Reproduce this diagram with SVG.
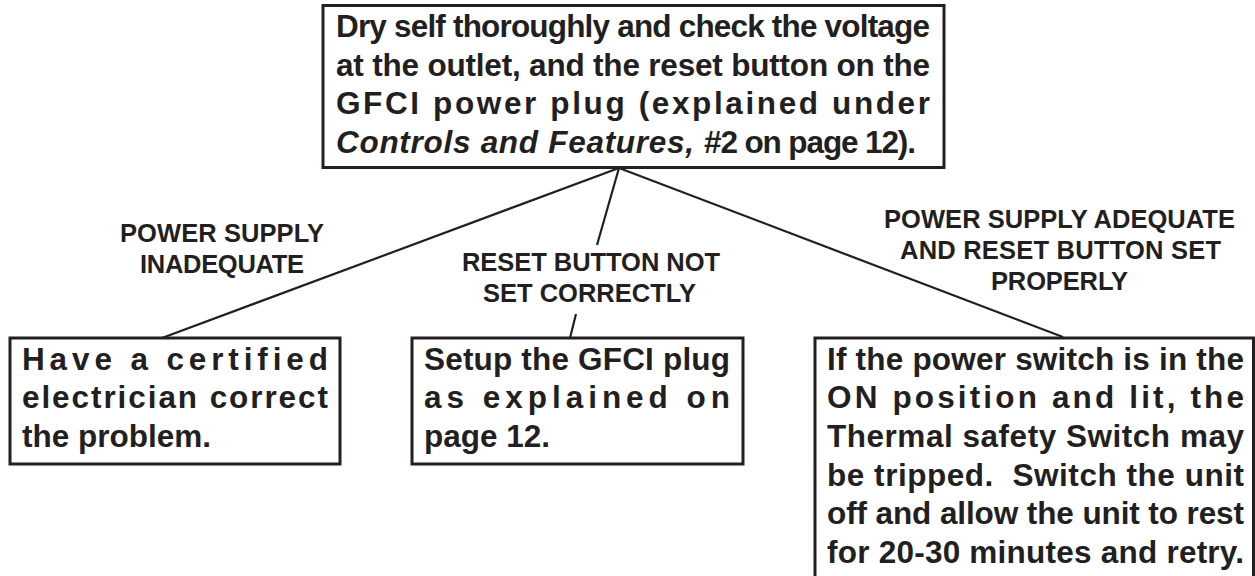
<svg xmlns="http://www.w3.org/2000/svg" width="1255" height="576" viewBox="0 0 1255 576">
<style>
.box{fill:#ffffff;stroke:#231f20;stroke-width:3}
.t{font-family:"Liberation Sans",Arial,Helvetica,sans-serif;font-weight:bold;font-size:31.5px;fill:#231f20}
.i{font-style:italic}
.lbl{font-family:"Liberation Sans",Arial,Helvetica,sans-serif;font-weight:bold;font-size:25.5px;fill:#231f20}
.c{fill:none;stroke:#231f20;stroke-width:2.2}
</style>
<rect width="1255" height="576" fill="#ffffff"/>
<g id="connectors">
<line class="c" x1="619" y1="168" x2="162" y2="338"/>
<line class="c" x1="619" y1="168" x2="597" y2="245"/>
<line class="c" x1="576" y1="314" x2="570" y2="338"/>
<line class="c" x1="619" y1="168" x2="1063" y2="337"/>
</g>
<g id="top">
<rect class="box" x="323" y="5.5" width="621" height="162"/>
<text class="t" x="336" y="37" textLength="594" lengthAdjust="spacing">Dry self thoroughly and check the voltage</text>
<text class="t" x="336" y="75.5" textLength="594" lengthAdjust="spacing">at the outlet, and the reset button on the</text>
<text class="t" x="336" y="114" textLength="594" lengthAdjust="spacing">GFCI power plug (explained under</text>
<text class="t i" x="336" y="152.5" textLength="358" lengthAdjust="spacing">Controls and Features,</text>
<text class="t" x="704" y="152.5" textLength="212" lengthAdjust="spacing">#2 on page 12).</text>
</g>
<g id="label-inadequate">
<text class="lbl" x="120" y="242" textLength="204" lengthAdjust="spacing">POWER SUPPLY</text>
<text class="lbl" x="140" y="273" textLength="164" lengthAdjust="spacing">INADEQUATE</text>
</g>
<g id="label-reset">
<text class="lbl" x="462" y="271" textLength="258" lengthAdjust="spacing">RESET BUTTON NOT</text>
<text class="lbl" x="483" y="302" textLength="213" lengthAdjust="spacing">SET CORRECTLY</text>
</g>
<g id="label-adequate">
<text class="lbl" x="884" y="228" textLength="351" lengthAdjust="spacing">POWER SUPPLY ADEQUATE</text>
<text class="lbl" x="900" y="259" textLength="321" lengthAdjust="spacing">AND RESET BUTTON SET</text>
<text class="lbl" x="991" y="290" textLength="137" lengthAdjust="spacing">PROPERLY</text>
</g>
<g id="electrician">
<rect class="box" x="10" y="338" width="330" height="126"/>
<text class="t" x="22" y="369.5" textLength="306" lengthAdjust="spacing">Have a certified</text>
<text class="t" x="22" y="408" textLength="306" lengthAdjust="spacing">electrician correct</text>
<text class="t" x="22" y="446.5">the problem.</text>
</g>
<g id="gfci">
<rect class="box" x="412" y="338" width="331" height="126"/>
<text class="t" x="424" y="369.5" textLength="306" lengthAdjust="spacing">Setup the GFCI plug</text>
<text class="t" x="424" y="408" textLength="306" lengthAdjust="spacing">as explained on</text>
<text class="t" x="424" y="446.5">page 12.</text>
</g>
<g id="thermal">
<rect class="box" x="815" y="338" width="438.5" height="260"/>
<text class="t" x="827" y="369.5" textLength="417" lengthAdjust="spacing">If the power switch is in the</text>
<text class="t" x="827" y="408" textLength="417" lengthAdjust="spacing">ON position and lit, the</text>
<text class="t" x="827" y="447" textLength="417" lengthAdjust="spacing">Thermal safety Switch may</text>
<text class="t" x="827" y="485.5" textLength="417" lengthAdjust="spacing" xml:space="preserve">be tripped.  Switch the unit</text>
<text class="t" x="827" y="524" textLength="417" lengthAdjust="spacing">off and allow the unit to rest</text>
<text class="t" x="827" y="562.5" textLength="417" lengthAdjust="spacing">for 20-30 minutes and retry.</text>
</g>
</svg>
